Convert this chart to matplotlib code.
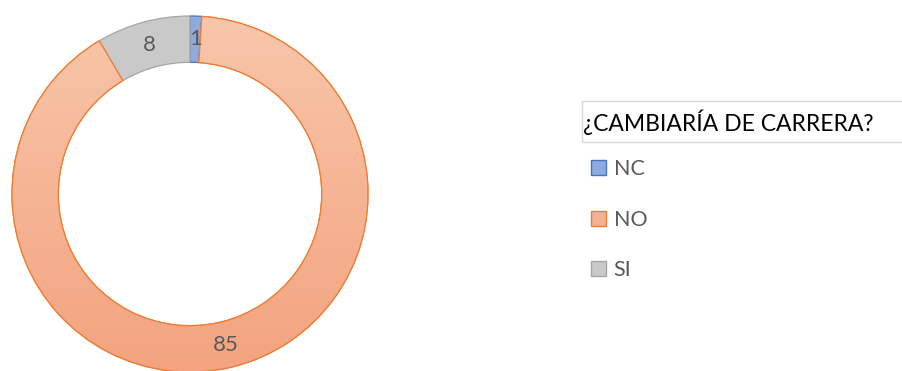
import numpy as np
import matplotlib.pyplot as plt
from matplotlib.patches import Patch, Rectangle, PathPatch
from matplotlib.colors import LinearSegmentedColormap

plt.rcParams["font.family"] = ["Lato", "DejaVu Sans"]

# Datos de la encuesta
categorias = ["NC", "NO", "SI"]
valores = [1, 85, 8]
titulo = "¿CAMBIARÍA DE CARRERA?"

colores = ["#8faadc", "#f5b291", "#c9c9c9"]
bordes = ["#4472c4", "#ed7d31", "#a5a5a5"]

W, H = 903, 371
fig = plt.figure(figsize=(W / 100, H / 100), dpi=100)
ax = fig.add_axes([0, 0, 1, 1])

# centro y radio en pixeles
cx, cy, r = 190, H - 194, 178
ancho = 0.26
total = sum(valores)

wedges, _, autotexts = ax.pie(
    valores,
    colors=colores,
    startangle=90,
    counterclock=False,
    center=(cx, cy),
    radius=r,
    autopct=lambda p: f"{round(p * total / 100)}",
    pctdistance=1 - ancho / 2,
    wedgeprops=dict(width=r * ancho, linewidth=0.9),
    textprops=dict(color="#595959", fontsize=16),
)
for w, b in zip(wedges, bordes):
    w.set_edgecolor(b)

# degradado del sector naranja (claro arriba, oscuro abajo)
grad = LinearSegmentedColormap.from_list("g", ["#f3a37f", "#f8c6aa"])
img = ax.imshow(
    np.linspace(0, 1, 256).reshape(-1, 1),
    cmap=grad,
    origin="lower",
    extent=(cx - r, cx + r, cy - r, cy + r),
    aspect="auto",
    zorder=wedges[1].get_zorder() + 0.1,
)
img.set_clip_path(wedges[1])
ax.add_patch(PathPatch(
    wedges[1].get_path(), transform=wedges[1].get_transform(),
    facecolor="none", edgecolor=bordes[1], linewidth=0.9,
    zorder=img.get_zorder() + 0.1,
))
for t in autotexts:
    t.set_zorder(10)

ax.set_xlim(0, W)
ax.set_ylim(0, H)
ax.set_aspect("auto")
ax.axis("off")

# titulo de la leyenda con recuadro
ax.add_patch(Rectangle((582, H - 142), 330, 41, facecolor="white",
                       edgecolor="#d9d9d9", linewidth=1.0, clip_on=False))
ax.text(583, H - 122, titulo, fontsize=16.5, color="#000000",
        va="center", ha="left")

handles = [Patch(facecolor=c, edgecolor=b, linewidth=1.0)
           for c, b in zip(colores, bordes)]
fig.legend(
    handles, categorias,
    loc="upper left",
    bbox_to_anchor=(591 / W, 1 - 159 / H),
    frameon=False,
    fontsize=15.5,
    labelcolor="#595959",
    handlelength=0.7,
    handleheight=0.7,
    handletextpad=0.35,
    labelspacing=1.42,
    borderpad=0,
    borderaxespad=0,
)

fig.savefig("out.png", dpi=100)
